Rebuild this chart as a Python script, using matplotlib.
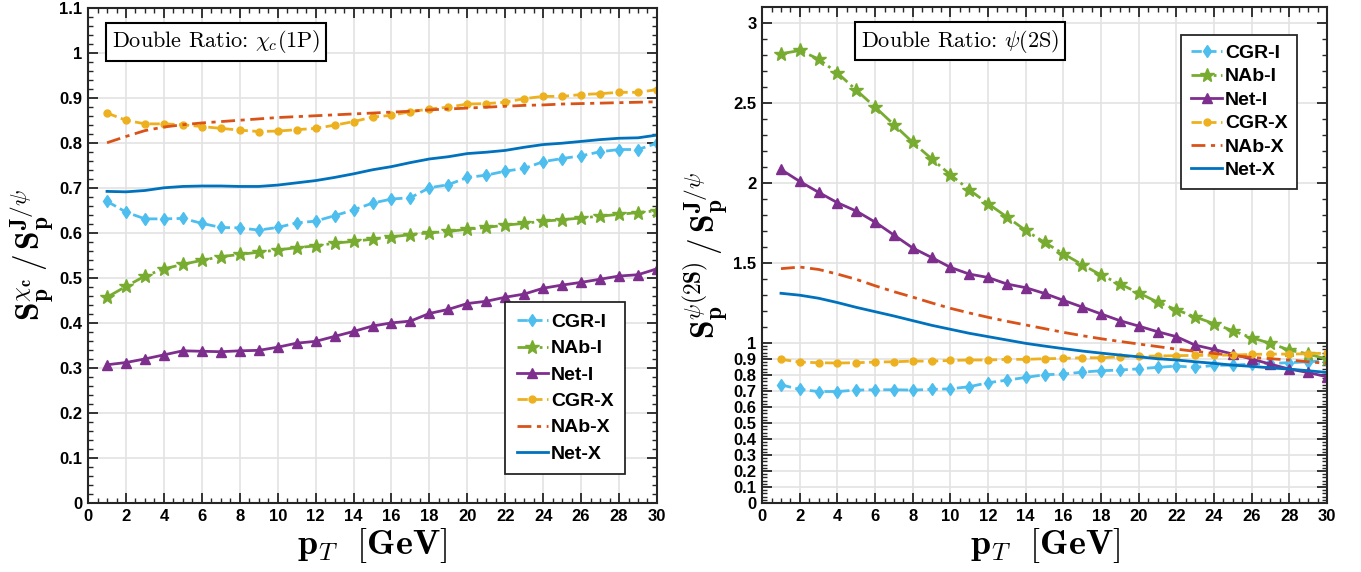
import numpy as np
import matplotlib
matplotlib.use('Agg')
import matplotlib.pyplot as plt
from matplotlib.ticker import MultipleLocator, FixedLocator, FuncFormatter

plt.rcParams.update({
    'font.family': 'Liberation Sans', 'font.weight': 'bold',
    'mathtext.fontset': 'cm',
})

pt = list(range(1, 31))

# left panel: chi_c(1P)
chi_cgr_i = [0.670, 0.646, 0.631, 0.631, 0.632, 0.621, 0.612, 0.611, 0.606, 0.612,
             0.622, 0.626, 0.638, 0.651, 0.666, 0.675, 0.678, 0.700, 0.707, 0.723,
             0.728, 0.737, 0.743, 0.758, 0.765, 0.771, 0.780, 0.785, 0.785, 0.799]
chi_nab_i = [0.457, 0.481, 0.504, 0.520, 0.530, 0.539, 0.547, 0.552, 0.557, 0.562,
             0.567, 0.571, 0.577, 0.581, 0.586, 0.591, 0.596, 0.600, 0.603, 0.608,
             0.612, 0.617, 0.621, 0.626, 0.629, 0.633, 0.637, 0.641, 0.645, 0.649]
chi_net_i = [0.307, 0.312, 0.320, 0.329, 0.338, 0.337, 0.336, 0.338, 0.339, 0.346,
             0.355, 0.359, 0.370, 0.381, 0.393, 0.400, 0.404, 0.421, 0.430, 0.443,
             0.448, 0.457, 0.464, 0.477, 0.484, 0.490, 0.497, 0.504, 0.507, 0.520]
chi_cgr_x = [0.866, 0.850, 0.842, 0.842, 0.840, 0.836, 0.832, 0.828, 0.825, 0.826,
             0.829, 0.832, 0.839, 0.847, 0.857, 0.861, 0.869, 0.875, 0.879, 0.886,
             0.887, 0.890, 0.898, 0.903, 0.903, 0.907, 0.909, 0.912, 0.912, 0.918]
chi_nab_x = [0.800, 0.814, 0.827, 0.835, 0.840, 0.844, 0.847, 0.850, 0.853, 0.856,
             0.858, 0.860, 0.862, 0.864, 0.866, 0.868, 0.870, 0.873, 0.875, 0.877,
             0.879, 0.881, 0.883, 0.884, 0.886, 0.887, 0.888, 0.889, 0.890, 0.891]
chi_net_x = [0.692, 0.691, 0.694, 0.700, 0.703, 0.704, 0.704, 0.703, 0.703, 0.706,
             0.711, 0.716, 0.723, 0.731, 0.740, 0.747, 0.756, 0.764, 0.769, 0.776,
             0.779, 0.783, 0.790, 0.796, 0.799, 0.803, 0.807, 0.810, 0.811, 0.817]

# right panel: psi(2S)
psi_cgr_i = [0.739, 0.710, 0.697, 0.697, 0.706, 0.708, 0.708, 0.706, 0.710, 0.714,
             0.727, 0.752, 0.768, 0.785, 0.802, 0.806, 0.818, 0.827, 0.831, 0.839,
             0.848, 0.856, 0.848, 0.860, 0.862, 0.868, 0.873, 0.877, 0.883, 0.889]
psi_nab_i = [2.808, 2.829, 2.775, 2.688, 2.581, 2.475, 2.365, 2.254, 2.152, 2.052,
             1.958, 1.871, 1.788, 1.704, 1.629, 1.558, 1.490, 1.425, 1.369, 1.313,
             1.256, 1.208, 1.163, 1.121, 1.077, 1.033, 0.998, 0.956, 0.931, 0.900]
psi_net_i = [2.085, 2.010, 1.942, 1.877, 1.825, 1.756, 1.675, 1.594, 1.535, 1.473,
             1.431, 1.410, 1.369, 1.346, 1.310, 1.267, 1.225, 1.182, 1.140, 1.106,
             1.071, 1.040, 0.987, 0.960, 0.931, 0.900, 0.868, 0.837, 0.816, 0.789]
psi_cgr_x = [0.898, 0.881, 0.877, 0.875, 0.877, 0.881, 0.883, 0.887, 0.887, 0.891,
             0.894, 0.894, 0.898, 0.898, 0.902, 0.904, 0.908, 0.908, 0.914, 0.917,
             0.919, 0.921, 0.923, 0.923, 0.925, 0.929, 0.931, 0.931, 0.933, 0.937]
psi_nab_x = [1.465, 1.475, 1.460, 1.431, 1.398, 1.358, 1.321, 1.287, 1.251, 1.217,
             1.188, 1.161, 1.136, 1.113, 1.090, 1.067, 1.046, 1.027, 1.010, 0.994,
             0.978, 0.962, 0.948, 0.935, 0.922, 0.910, 0.902, 0.894, 0.883, 0.873]
psi_net_x = [1.311, 1.299, 1.280, 1.253, 1.223, 1.196, 1.169, 1.140, 1.111, 1.086,
             1.061, 1.040, 1.019, 0.998, 0.981, 0.965, 0.950, 0.937, 0.925, 0.914,
             0.902, 0.894, 0.883, 0.873, 0.862, 0.854, 0.845, 0.837, 0.827, 0.816]

names = ['CGR-I', 'NAb-I', 'Net-I', 'CGR-X', 'NAb-X', 'Net-X']
colors = ['#4DBEEE', '#77AC30', '#7E2F8E', '#EDB120', '#D95319', '#0072BD']
styles = [dict(ls='--', marker='d', ms=6),
          dict(ls='-.', marker='*', ms=10),
          dict(ls='-', marker='^', ms=7),
          dict(ls='--', marker='o', ms=5),
          dict(ls=(0, (5, 2, 1.5, 2)), marker=None),
          dict(ls='-', marker=None)]

fig = plt.figure(figsize=(13.61, 5.72), dpi=100)
axL = fig.add_axes([0.0647, 0.1206, 0.418, 0.866])
axR = fig.add_axes([0.560, 0.1206, 0.415, 0.867])

fmt = FuncFormatter(lambda v, p: '%g' % round(v, 3))


def style_axes(ax):
    ax.set_xlim(0, 30)
    ax.xaxis.set_major_locator(MultipleLocator(2))
    ax.xaxis.set_minor_locator(MultipleLocator(0.5))
    ax.yaxis.set_major_formatter(fmt)
    ax.grid(True, which='major', color='#e3e3e3', lw=1.2, zorder=0)
    ax.set_axisbelow(True)
    ax.tick_params(which='both', direction='in', top=True, right=True,
                   color='#262626', labelsize=12, pad=4)
    ax.tick_params(which='major', length=7, width=1.3)
    ax.tick_params(which='minor', length=3.5, width=1.0)
    for s in ax.spines.values():
        s.set_linewidth(1.5)
        s.set_color('#262626')
    ax.set_xlabel(r'$\mathbf{p}_{T}\ \ \mathbf{[GeV]}$', fontsize=26, labelpad=2)


def draw(ax, series):
    for y, name, c, st in zip(series, names, colors, styles):
        ax.plot(pt, y, color=c, lw=2, label=name, mfc=c, mec=c, **st)


def add_legend(ax, **kw):
    leg = ax.legend(frameon=True, fancybox=False, edgecolor='#262626',
                    handlelength=1.6, handletextpad=0.15, framealpha=1,
                    prop=dict(family='Liberation Sans', weight='bold', size=14), **kw)
    leg.get_frame().set_linewidth(1.3)


box = dict(boxstyle='square,pad=0.25', fc='white', ec='black', lw=1.5)

draw(axL, [chi_cgr_i, chi_nab_i, chi_net_i, chi_cgr_x, chi_nab_x, chi_net_x])
axL.set_ylim(0, 1.1)
axL.yaxis.set_major_locator(MultipleLocator(0.1))
axL.yaxis.set_minor_locator(MultipleLocator(0.02))
style_axes(axL)
axL.set_ylabel(r'$\mathbf{S}_{\mathbf{p}}^{\chi_{\mathbf{c}}}\,/\,\mathbf{S}_{\mathbf{p}}^{\mathbf{J}/\psi}$',
               fontsize=24, labelpad=2)
axL.text(0.042, 0.958, r'Double Ratio: $\chi_c$(1P)', transform=axL.transAxes,
         fontname='cmr10', fontweight='normal', fontsize=16, va='top', ha='left',
         bbox=box)
add_legend(axL, loc='lower right', bbox_to_anchor=(0.961, 0.038),
           labelspacing=0.45, borderpad=0.6)

draw(axR, [psi_cgr_i, psi_nab_i, psi_net_i, psi_cgr_x, psi_nab_x, psi_net_x])
axR.set_ylim(0, 3.1)
yt = [0, 0.1, 0.2, 0.3, 0.4, 0.5, 0.6, 0.7, 0.8, 0.9, 1, 1.5, 2, 2.5, 3]
axR.yaxis.set_major_locator(FixedLocator(yt))
minor = [m / 100 for m in range(0, 100, 2)] + [1 + m / 10 for m in range(0, 21)]
axR.yaxis.set_minor_locator(FixedLocator(minor))
style_axes(axR)
axR.set_ylabel(r'$\mathbf{S}_{\mathbf{p}}^{\psi(\mathbf{2S})}\,/\,\mathbf{S}_{\mathbf{p}}^{\mathbf{J}/\psi}$',
               fontsize=24, labelpad=2)
axR.text(0.175, 0.958, r'Double Ratio: $\psi$(2S)', transform=axR.transAxes,
         fontname='cmr10', fontweight='normal', fontsize=16, va='top', ha='left',
         bbox=box)
add_legend(axR, loc='upper right', bbox_to_anchor=(0.965, 0.964),
           labelspacing=0.3, borderpad=0.5)

fig.savefig('out.png', dpi=100)
